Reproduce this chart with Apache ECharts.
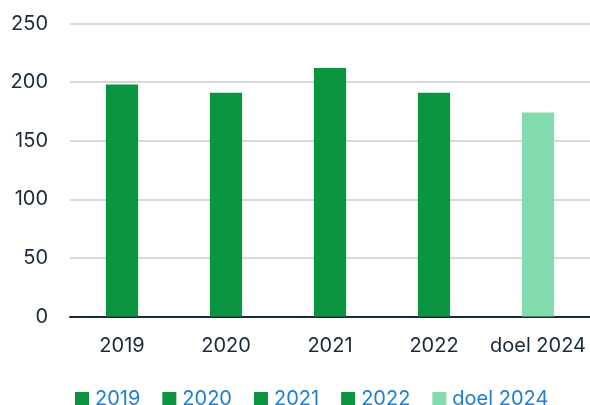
<!DOCTYPE html>
<html><head><meta charset="utf-8">
<script src="https://cdn.jsdelivr.net/npm/echarts@6/dist/echarts.min.js"></script>
<style>html,body{margin:0;padding:0;background:#fff}#c{width:590px;height:405px}</style>
</head><body><div id="c"></div>
<script>
const categories = ['2019', '2020', '2021', '2022', 'doel 2024'];
const values = [198, 191, 212, 191, 174];
const colors = ['#0c9540', '#0c9540', '#0c9540', '#0c9540', '#82dcae'];
const yTicks = [0, 50, 100, 150, 200, 250];

const series = categories.map((name, i) => ({
  name: name,
  type: 'bar',
  stack: 'all',
  barWidth: '31%',
  itemStyle: { color: colors[i] },
  data: categories.map((c, j) => (j === i ? values[i] : '-'))
}));

const chart = echarts.init(document.getElementById('c'), null, { renderer: 'canvas' });
chart.setOption({
  animation: false,
  textStyle: { fontFamily: 'Inter' },
  grid: { left: 70, right: 0, top: 23.5, bottom: 88.5, containLabel: false },
  legend: {
    top: 384,
    left: 70,
    itemWidth: 14,
    itemHeight: 14,
    itemGap: 22,
    icon: 'rect',
    textStyle: { color: '#1f80d0', fontSize: 20, fontFamily: 'Inter', padding: [0, 0, 0, 1] },
    data: categories
  },
  xAxis: {
    type: 'category',
    data: categories,
    axisLine: { lineStyle: { color: '#1b2a3a', width: 2 } },
    axisTick: { show: false },
    axisLabel: { color: '#1b2a3a', fontSize: 20, margin: 19, interval: 0 }
  },
  yAxis: {
    type: 'value',
    min: yTicks[0],
    max: yTicks[yTicks.length - 1],
    interval: 50,
    axisLine: { show: false },
    axisTick: { show: false },
    splitLine: { lineStyle: { color: '#d9d9d9', width: 2 } },
    axisLabel: { color: '#1b2a3a', fontSize: 20, margin: 22 }
  },
  series: series
});
</script></body></html>
